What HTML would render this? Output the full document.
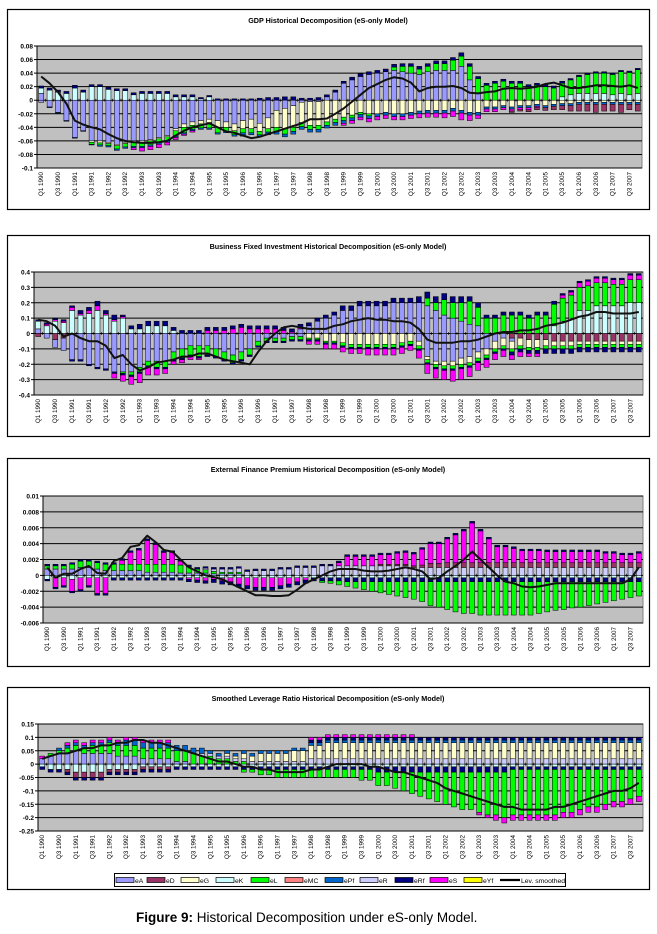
<!DOCTYPE html>
<html><head><meta charset="utf-8">
<style>
body{margin:0;background:#fff;width:657px;height:929px;overflow:hidden;font-family:"Liberation Sans",sans-serif}
svg text{font-family:"Liberation Sans",sans-serif}
</style></head>
<body>
<svg id="chart" width="657" height="929" xmlns="http://www.w3.org/2000/svg">
<rect x="0" y="0" width="657" height="929" fill="#fff"/>
</svg>
<script>
// ---------- shared ----------
const quarters = [];
for (let y = 1990; y <= 2007; y++) for (let q = 1; q <= 4; q++) quarters.push('Q' + q + ' ' + y);

// ---------- Panel 1: GDP (values x0.001) ----------
const gdpScale = 0.001;
const gdpTicks = [0.08,0.06,0.04,0.02,0,-0.02,-0.04,-0.06,-0.08,-0.1];
const gdpTickLabels = ['0.08','0.06','0.04','0.02','0','-0.02','-0.04','-0.06','-0.08','-0.1'];
const gdpLine = [35,25,12,-5,-30,-36,-40,-43,-50,-56,-60,-62,-63,-63,-62,-60,-52,-45,-40,-37,-34,-40,-46,-48,-52,-56,-54,-50,-46,-42,-38,-34,-28,-28,-27,-20,-12,-2,8,18,24,30,34,32,26,13,18,20,20,21,18,11,10,12,13,17,18,17,18,20,24,26,22,18,18,20,22,22,21,20,22,18];
const gdpPosA = [10,0,0,0,0,0,0,0,0,0,0,0,0,0,0,0,0,0,0,0,0,0,0,0,0,0,0,0,0,0,0,0,0,0,5,12,25,30,35,38,40,42,44,42,40,38,42,44,44,44,50,30,10,0,0,0,0,0,0,0,0,0,0,0,0,0,0,0,0,0,0,0];
const gdpPosK = [8,15,12,10,18,12,20,20,16,14,14,8,10,10,10,10,5,5,5,2,5,0,0,0,0,0,0,0,0,0,0,0,0,0,0,0,0,0,0,0,0,0,0,0,0,0,0,0,0,0,0,0,0,0,0,0,0,0,0,0,0,0,5,8,10,10,10,10,8,10,8,10];
const gdpPosL = [0,0,0,0,0,0,0,0,0,0,0,0,0,0,0,0,0,0,0,0,0,0,0,0,0,0,0,0,0,0,0,0,0,0,0,0,0,0,0,0,0,0,5,8,10,8,8,10,10,15,15,20,22,22,25,28,25,25,20,22,20,18,20,22,25,28,30,30,30,32,33,35];
const gdpPosRf = [3,3,3,3,4,3,3,3,3,3,3,3,3,3,3,3,3,3,3,2,2,2,2,2,2,2,3,4,4,5,5,3,3,4,3,3,3,4,4,4,4,4,4,4,4,4,4,4,4,4,5,4,3,3,3,3,3,3,3,3,3,3,3,2,2,2,2,2,2,2,2,2];
const gdpNegA = [-3,-10,-18,-30,-55,-45,-60,-60,-62,-65,-62,-60,-60,-58,-55,-52,-42,-35,-32,-30,-28,-30,-32,-35,-30,-28,-34,-26,-15,-12,-8,-3,-2,-2,0,0,0,0,0,0,0,0,0,0,0,0,0,0,0,0,0,0,0,0,0,0,0,0,0,0,0,0,0,0,0,0,0,0,0,0,0,0];
const gdpNegG = [0,0,0,0,0,0,-2,-3,-2,-2,-2,-2,-2,-2,-2,-2,-3,-5,-5,-5,-5,-10,-8,-10,-12,-14,-12,-16,-25,-30,-32,-30,-35,-35,-32,-28,-25,-22,-18,-20,-20,-18,-20,-20,-18,-16,-15,-15,-15,-12,-15,-18,-18,-10,-10,-8,-10,-8,-8,-6,-8,-6,-5,-5,-3,-3,-3,-3,-3,-3,-3,-3];
const gdpNegL = [0,0,0,0,0,0,-3,-3,-3,-5,-5,-6,-6,-6,-6,-6,-8,-8,-6,-6,-8,-8,-6,-6,-6,-6,-5,-5,-6,-8,-6,-6,-6,-6,-5,-5,-5,-4,-3,-3,0,0,0,0,0,0,0,0,0,0,0,0,0,0,0,0,0,0,0,0,0,0,0,0,0,0,0,0,0,0,0,0];
const gdpNegPf = [0,-1,-1,-1,-1,-1,-1,-2,-2,-2,-2,-2,-2,-2,-2,-2,-2,-2,-2,-2,-2,-2,-2,-2,-3,-3,-3,-4,-4,-4,-4,-4,-4,-4,-4,-4,-4,-4,-4,-4,-4,-4,-4,-4,-4,-4,-4,-4,-4,-4,-4,-4,-4,-3,-3,-3,-3,-3,-3,-3,-3,-3,-3,-3,-3,-3,-3,-3,-3,-3,-3,-3];
const gdpNegS = [0,0,0,0,0,0,0,0,0,0,0,-3,-5,-5,-5,-4,-3,-2,-2,0,0,0,0,0,-2,0,0,0,0,0,0,0,0,0,0,0,-3,-4,-4,-5,-5,-5,-5,-5,-5,-6,-6,-6,-7,-8,-10,-8,-5,-4,-4,-3,-3,-3,-3,-2,0,0,0,0,0,0,0,0,0,0,0,0];
const gdpNegD = [0,0,0,0,0,0,0,0,0,0,0,0,0,0,0,0,0,0,0,0,0,0,0,0,0,0,0,0,0,0,0,0,0,0,0,0,0,0,0,0,0,0,0,0,0,0,0,0,0,0,0,0,0,0,0,0,-2,-2,-3,-3,-4,-5,-6,-8,-10,-10,-12,-10,-10,-12,-8,-10];

// ---------- Panel 2: Business fixed investment (values x0.01) ----------
const bfiScale = 0.01;
const bfiTicks = [0.4,0.3,0.2,0.1,0,-0.1,-0.2,-0.3,-0.4];
const bfiTickLabels = ['0.4','0.3','0.2','0.1','0','-0.1','-0.2','-0.3','-0.4'];
const bfiLine = [9,8,5,-2,0,-3,-5,-5,-8,-16,-14,-20,-24,-22,-19,-18,-17,-15,-15,-13,-13,-15,-17,-18,-19,-20,-12,-5,0,4,5,4,3,3,3,5,6,8,9,10,9,9,8,8,7,3,-4,-6,-6,-6,-5,-5,-4,-2,0,1,1,2,2,3,5,6,7,9,11,12,14,14,13,13,13,14];
const bfiPosA = [3,0,0,0,0,0,0,0,0,0,0,0,0,0,0,0,0,0,0,0,0,0,0,0,0,0,0,0,0,0,0,3,5,8,10,12,15,15,18,18,18,18,20,20,20,20,18,15,12,10,8,6,5,0,0,0,0,0,0,0,0,0,0,0,0,0,0,0,0,0,0,0];
const bfiPosK = [5,5,8,7,15,12,13,15,12,8,10,3,3,5,5,5,2,0,0,0,0,0,0,0,0,0,0,0,0,0,0,0,0,0,0,0,0,0,0,0,0,0,0,0,0,0,0,0,0,0,0,0,0,0,0,0,0,0,0,0,0,5,8,10,15,15,18,18,18,18,20,20];
const bfiPosL = [0,0,0,0,0,0,0,0,0,0,0,0,0,0,0,0,0,0,0,0,0,0,0,0,0,0,0,0,0,0,0,0,0,0,0,0,0,0,0,0,0,0,0,0,0,0,5,5,10,10,12,15,12,10,10,12,12,12,10,12,12,14,15,15,15,16,15,15,14,14,15,15];
const bfiPosS = [0,1,1,1,2,1,2,3,1,1,1,0,0,0,0,0,0,0,0,0,2,2,2,3,4,3,3,3,3,2,1,1,0,0,0,0,0,0,0,0,0,0,0,0,0,0,0,0,0,0,0,0,0,0,0,0,0,0,0,0,0,0,2,2,3,3,3,3,3,3,3,3];
const bfiPosRf = [1,1,1,1,1,2,2,3,2,3,1,2,3,3,3,3,2,2,2,2,2,2,2,2,2,2,2,2,2,2,2,2,2,2,2,2,3,3,3,3,3,3,3,3,3,4,4,4,4,4,4,3,3,2,2,2,2,2,2,2,2,2,1,1,1,1,1,1,1,1,1,1];
const bfiNegA = [0,-3,-5,-8,-17,-17,-20,-22,-23,-25,-25,-25,-22,-18,-18,-18,-12,-10,-8,-8,-8,-10,-12,-14,-12,-10,-5,-3,-3,-3,-2,-2,0,0,0,0,0,0,0,0,0,0,0,0,0,-5,-15,-18,-18,-18,-16,-15,-12,-10,-5,-3,-2,0,0,0,0,0,0,0,0,0,0,0,0,0,0,0];
const bfiNegD = [-2,0,-4,-3,0,0,0,0,0,0,0,0,0,0,0,0,0,0,0,0,0,0,0,0,0,0,0,0,0,0,0,0,0,0,0,0,0,0,0,0,0,0,0,0,0,0,0,0,0,0,0,0,0,0,0,0,-3,-3,-4,-4,-4,-5,-5,-5,-5,-5,-5,-5,-5,-5,-5,-5];
const bfiNegG = [0,0,0,0,0,0,0,0,0,0,0,0,0,0,0,0,0,0,0,0,0,0,0,0,0,0,0,0,0,0,0,0,-3,-3,-5,-5,-6,-7,-7,-7,-7,-7,-7,-6,-5,-3,-2,-2,-3,-3,-4,-4,-4,-4,-5,-5,-5,-5,-5,-5,-4,-3,-3,-3,-2,-2,-2,-2,-2,-2,-2,-2];
const bfiNegL = [0,0,0,0,0,0,0,0,0,0,-1,-2,-3,-3,-4,-4,-5,-6,-6,-7,-6,-5,-5,-5,-5,-4,-3,-2,-2,-2,-2,-2,-1,-1,-1,-1,-2,-2,-2,-2,-2,-2,-2,-2,-2,-2,-2,-2,-2,-2,-2,-2,-2,-2,-2,-2,-2,-2,-2,-2,-2,-2,-2,-2,-2,-2,-2,-2,-2,-2,-2,-2];
const bfiNegS = [0,0,0,0,0,0,0,0,0,-3,-4,-5,-6,-5,-4,-3,-2,-2,-2,-1,0,0,0,0,0,0,0,0,0,0,0,0,-2,-2,-3,-3,-3,-3,-3,-4,-4,-4,-4,-4,-3,-5,-6,-6,-6,-7,-7,-6,-5,-5,-4,-4,-3,-3,-2,-2,0,0,0,0,0,0,0,0,0,0,0,0];
const bfiNegRf = [0,0,0,0,-1,-1,-1,-1,-1,-1,-1,-1,-1,-1,-1,-1,-1,-1,-1,-1,-1,-1,-1,-1,-1,-1,-1,-1,-1,-1,-1,-1,-1,-1,-1,-1,-1,-1,-1,-1,-1,-1,-1,-1,-1,-1,-1,-1,-1,-1,-1,-1,-1,-1,-1,-1,-2,-2,-2,-2,-3,-3,-3,-3,-3,-3,-3,-3,-3,-3,-3,-3];

// ---------- Panel 3: External finance premium (values x0.0001) ----------
const efpScale = 0.0001;
const efpTicks = [0.01,0.008,0.006,0.004,0.002,0,-0.002,-0.004,-0.006];
const efpTickLabels = ['0.01','0.008','0.006','0.004','0.002','0','-0.002','-0.004','-0.006'];
const efpLine = [10,-3,2,2,8,12,3,2,18,22,36,38,50,42,32,30,20,10,5,0,-2,-5,-10,-15,-20,-25,-25,-26,-26,-25,-18,-10,-5,0,5,8,8,8,6,5,5,6,8,10,8,5,-5,-3,5,12,20,30,20,10,0,-8,-10,-14,-15,-14,-12,-10,-10,-10,-10,-10,-10,-10,-10,-10,-5,10];
const efpPosA = [8,8,8,8,10,10,8,6,6,6,6,6,4,4,4,4,3,3,3,3,2,2,2,2,0,0,0,0,0,0,0,0,0,0,0,0,0,0,0,0,0,0,0,0,0,0,0,0,0,0,0,0,0,0,0,0,0,0,0,0,0,0,0,0,0,0,0,0,0,0,0,0];
const efpPosL = [4,4,4,6,8,8,8,8,8,8,8,8,10,10,10,10,10,8,5,4,3,2,2,2,0,0,0,0,0,0,0,0,0,0,0,0,0,0,0,0,0,0,0,0,0,0,0,0,0,0,0,0,0,0,0,0,0,0,0,0,0,0,0,0,0,0,0,0,0,0,0,0];
const efpPosR = [0,0,0,0,0,0,0,0,0,0,0,0,0,0,0,0,0,0,0,2,3,4,4,5,5,6,6,6,8,8,10,10,10,12,12,12,12,12,12,12,12,12,12,12,10,10,10,10,10,10,10,10,10,10,10,10,10,10,10,10,10,10,10,10,10,10,10,10,10,10,10,10];
const efpPosD = [0,0,0,0,0,0,0,0,0,0,0,0,0,0,0,0,0,0,0,0,0,0,0,0,0,0,0,0,0,0,0,0,0,0,0,0,0,0,0,0,2,2,2,2,2,3,5,5,6,6,6,6,6,6,6,6,6,6,6,6,6,6,6,6,6,6,6,6,6,6,6,6];
const efpPosS = [0,0,0,0,0,0,0,0,0,5,15,18,30,25,15,15,5,0,0,0,0,0,0,0,0,0,0,0,0,0,0,0,0,0,0,4,12,12,12,12,12,12,14,15,15,20,25,25,30,35,40,50,40,30,20,20,18,15,15,15,14,14,14,14,14,14,14,12,12,10,10,12];
const efpPosRf = [2,2,2,2,2,2,2,2,2,2,2,2,2,2,2,2,2,2,2,2,2,2,2,2,2,2,2,2,2,2,2,2,2,2,2,2,2,2,2,2,2,2,2,2,2,2,2,2,2,2,2,2,2,2,2,2,2,2,2,2,2,2,2,2,2,2,2,2,2,2,2,2];
const efpNegK = [-5,-3,-3,-5,-3,-3,-3,-3,-3,-3,-3,-3,-3,-3,-3,-3,-3,-3,-3,-3,-3,-3,-3,-3,-3,-3,-3,-3,-3,-3,-3,-3,-3,-3,-3,-3,-3,-3,-3,-3,-3,-3,-3,-3,-3,-3,-3,-3,-3,-3,-3,-3,-3,-3,-3,-3,-3,-3,-3,-3,-3,-3,-3,-3,-3,-3,-3,-3,-3,-3,-3,-3];
const efpNegS = [0,-12,-10,-15,-15,-10,-20,-20,0,0,0,0,0,0,0,0,0,-2,-3,-4,-2,-4,-5,-8,-10,-12,-12,-12,-10,-8,-5,-3,0,0,0,0,0,0,0,0,0,0,0,0,0,0,0,0,0,0,0,0,0,0,0,0,0,0,0,0,0,0,0,0,0,0,0,0,0,0,0,0];
const efpNegL = [0,0,0,0,0,0,0,0,0,0,0,0,0,0,0,0,0,0,0,0,0,0,0,0,0,0,0,0,0,0,0,0,0,-2,-3,-5,-6,-8,-10,-12,-14,-16,-18,-20,-22,-25,-30,-32,-35,-38,-40,-40,-42,-42,-42,-42,-42,-42,-42,-40,-38,-36,-35,-33,-32,-30,-28,-26,-24,-22,-20,-18];
const efpNegRf = [-2,-2,-2,-2,-2,-2,-2,-2,-3,-3,-3,-3,-3,-3,-3,-3,-3,-3,-3,-3,-4,-4,-4,-4,-4,-4,-4,-4,-4,-4,-4,-4,-4,-4,-4,-4,-5,-5,-5,-5,-5,-5,-5,-5,-5,-5,-5,-5,-5,-5,-5,-5,-5,-5,-5,-5,-5,-5,-5,-5,-5,-5,-5,-5,-5,-5,-5,-5,-5,-5,-5,-5];

// ---------- Panel 4: Smoothed leverage ratio (values x0.01) ----------
const levScale = 0.01;
const levTicks = [0.15,0.1,0.05,0,-0.05,-0.1,-0.15,-0.2,-0.25];
const levTickLabels = ['0.15','0.1','0.05','0','-0.05','-0.1','-0.15','-0.2','-0.25'];
const levLine = [2,3,4,4,5,6,6,7,7,8,8,9,9,8,8,7,6,5,4,3,2,1,1,0,-1,-1,-2,-2,-3,-3,-3,-3,-2,-2,-1,0,0,0,0,-1,-1,-2,-3,-3,-4,-5,-6,-7,-9,-10,-11,-12,-13,-14,-15,-16,-16,-17,-17,-17,-17,-16,-16,-15,-14,-13,-12,-11,-10,-10,-9,-7];
const levPosA = [2,3,4,4,5,4,4,4,4,3,3,3,2,2,2,2,1,1,0,0,0,0,0,0,0,0,0,0,0,0,0,0,0,0,0,0,0,0,0,0,0,0,0,0,0,0,0,0,0,0,0,0,0,0,0,0,0,0,0,0,0,0,0,0,0,0,0,0,0,0,0,0];
const levPosL = [0,1,1,2,2,2,3,3,4,4,4,4,4,4,4,4,4,4,4,3,3,2,2,1,1,0,0,0,0,0,0,0,0,0,0,0,0,0,0,0,0,0,0,0,0,0,0,0,0,0,0,0,0,0,0,0,0,0,0,0,0,0,0,0,0,0,0,0,0,0,0,0];
const levPosG = [0,0,0,0,0,0,0,0,0,0,0,0,0,0,0,0,0,0,0,0,0,0,1,1,2,2,3,3,3,3,4,4,5,5,6,6,6,6,6,6,6,6,6,6,6,6,6,6,6,6,6,6,6,6,6,6,6,6,6,6,6,6,6,6,6,6,6,6,6,6,6,6];
const levPosR = [0,0,0,0,0,0,0,0,0,0,0,0,0,0,0,0,0,0,0,1,1,1,1,1,1,1,1,1,1,1,1,1,2,2,2,2,2,2,2,2,2,2,2,2,2,2,2,2,2,2,2,2,2,2,2,2,2,2,2,2,2,2,2,2,2,2,2,2,2,2,2,2];
const levPosPf = [0,0,1,1,1,1,1,1,1,1,2,2,2,2,2,2,2,2,2,2,1,1,1,1,1,1,1,1,1,1,1,1,1,1,1,1,1,1,1,1,1,1,1,1,1,1,1,1,1,1,1,1,1,1,1,1,1,1,1,1,1,1,1,1,1,1,1,1,1,1,1,1];
const levPosS = [1,0,0,1,1,1,1,1,1,1,1,1,1,1,1,1,0,0,0,0,0,0,0,0,0,0,0,0,0,0,0,0,1,1,1,1,1,1,1,1,1,1,1,1,1,0,0,0,0,0,0,0,0,0,0,0,0,0,0,0,0,0,0,0,0,0,0,0,0,0,0,0];
const levPosRf = [0,0,0,0,0,0,0,0,0,0,0,0,0,0,0,0,0,0,0,0,0,0,0,0,0,0,0,0,0,0,0,0,1,1,1,1,1,1,1,1,1,1,1,1,1,1,1,1,1,1,1,1,1,1,1,1,1,1,1,1,1,1,1,1,1,1,1,1,1,1,1,1];
const levNegK = [-1,-2,-2,-2,-3,-3,-3,-3,-2,-2,-2,-2,-1,-1,-1,-1,-1,-1,-1,-1,-1,-1,-1,-1,-1,-1,-1,-1,-1,-1,-1,-1,-1,-1,-1,-1,-1,-1,-1,-1,-1,-1,-1,-1,-1,-1,-1,-1,-1,-1,-1,-1,-1,-1,-1,-1,-1,-1,-1,-1,-1,-1,-1,-1,-1,-1,-1,-1,-1,-1,-1,-1];
const levNegD = [0,0,0,-1,-2,-2,-2,-2,-1,-1,-1,-1,-1,-1,-1,-1,0,0,0,0,0,0,0,0,0,0,0,0,0,0,0,0,0,0,0,0,0,0,0,0,0,0,0,0,0,0,0,0,0,0,0,0,0,0,0,0,0,0,0,0,0,0,0,0,0,0,0,0,0,0,0,0];
const levNegL = [0,0,0,0,0,0,0,0,0,0,0,0,0,0,0,0,0,0,0,0,0,0,0,0,-1,-1,-2,-2,-3,-3,-3,-3,-3,-3,-3,-3,-3,-3,-4,-4,-5,-5,-6,-7,-8,-9,-10,-11,-12,-13,-14,-14,-15,-16,-16,-17,-17,-17,-17,-17,-17,-17,-16,-16,-15,-14,-14,-13,-12,-12,-11,-10];
const levNegRf = [-1,-1,-1,-1,-1,-1,-1,-1,-1,-1,-1,-1,-1,-1,-1,-1,-1,-1,-1,-1,-1,-1,-1,-1,-1,-1,-1,-1,-1,-1,-1,-1,-1,-1,-1,-1,-1,-1,-1,-1,-2,-2,-2,-2,-2,-2,-2,-2,-2,-2,-2,-2,-2,-2,-2,-2,-1,-1,-1,-1,-1,-1,-1,-1,-1,-1,-1,-1,-1,-1,-1,-1];
const levNegS = [0,0,0,0,0,0,0,0,0,0,0,0,0,0,0,0,0,0,0,0,0,0,0,0,0,0,0,0,0,0,0,0,0,0,0,0,0,0,0,0,0,0,0,0,0,0,0,0,0,0,0,0,-1,-1,-2,-2,-2,-2,-2,-2,-2,-2,-2,-2,-2,-2,-2,-2,-2,-2,-2,-2];

// legend
const legendNames = ['eA','eD','eG','eK','eL','eMC','ePf','eR','eRf','eS','eYf'];
const legendColors = ['#9999ff','#993366','#ffffcc','#ccffff','#00ff00','#ff8080','#0066cc','#ccccff','#000080','#ff00ff','#ffff00'];
const C = {eA:'#9999ff',eD:'#993366',eG:'#ffffcc',eK:'#ccffff',eL:'#00ff00',eMC:'#ff8080',ePf:'#0066cc',eR:'#ccccff',eRf:'#000080',eS:'#ff00ff',eYf:'#ffff00'};

const panels = [
 {id:'gdp',title:'GDP Historical Decomposition (eS-only Model)',box:[7,9,642,200],plot:[37,46,642,168],min:-0.1,max:0.08,scale:gdpScale,ticks:gdpTicks,tickLabels:gdpTickLabels,line:gdpLine,
  pos:[['eA',gdpPosA],['eK',gdpPosK],['eL',gdpPosL],['eRf',gdpPosRf]],
  neg:[['eA',gdpNegA],['eG',gdpNegG],['eL',gdpNegL],['ePf',gdpNegPf],['eS',gdpNegS],['eD',gdpNegD]]},
 {id:'bfi',title:'Business Fixed Investment Historical Decomposition (eS-only Model)',box:[7,235,642,201],plot:[34,272,643,395],min:-0.4,max:0.4,scale:bfiScale,ticks:bfiTicks,tickLabels:bfiTickLabels,line:bfiLine,
  pos:[['eA',bfiPosA],['eK',bfiPosK],['eL',bfiPosL],['eS',bfiPosS],['eRf',bfiPosRf]],
  neg:[['eD',bfiNegD],['eA',bfiNegA],['eG',bfiNegG],['eL',bfiNegL],['eRf',bfiNegRf],['eS',bfiNegS]]},
 {id:'efp',title:'External Finance Premium Historical Decomposition (eS-only Model)',box:[7,458,642,208],plot:[43,496,643,623],min:-0.006,max:0.01,scale:efpScale,ticks:efpTicks,tickLabels:efpTickLabels,line:efpLine,
  pos:[['eA',efpPosA],['eL',efpPosL],['eR',efpPosR],['eD',efpPosD],['eS',efpPosS],['eRf',efpPosRf]],
  neg:[['eK',efpNegK],['eS',efpNegS],['eRf',efpNegRf],['eL',efpNegL]]},
 {id:'lev',title:'Smoothed Leverage Ratio Historical Decomposition (eS-only Model)',box:[7,687,642,202],plot:[38,724,643,831],min:-0.25,max:0.15,scale:levScale,ticks:levTicks,tickLabels:levTickLabels,line:levLine,
  pos:[['eA',levPosA],['eL',levPosL],['eR',levPosR],['eG',levPosG],['ePf',levPosPf],['eRf',levPosRf],['eS',levPosS]],
  neg:[['eK',levNegK],['eD',levNegD],['eRf',levNegRf],['eL',levNegL],['eS',levNegS]]}
];

const NS = 'http://www.w3.org/2000/svg';
const svg = document.getElementById('chart');
function mk(tag, attrs, parent){ const e=document.createElementNS(NS,tag); for(const k in attrs) e.setAttribute(k,attrs[k]); (parent||svg).appendChild(e); return e; }

panels.forEach(p => {
  const g = mk('g',{});
  
  
  const [bx,by,bw,bh] = p.box;
  const border = mk('rect',{x:bx+0.5,y:by+0.5,width:bw,height:bh,fill:'#fff',stroke:'#000','stroke-width':1.2},g);
  
  
  const [L,T,R,B] = p.plot;
  const yS = v => T + (p.max - v) / (p.max - p.min) * (B - T);
  const slot = (R - L) / quarters.length;
  const xS = i => L + (i + 0.5) * slot;
  const title = mk('text',{x:(bx+bx+bw)/2,y:by+14,'text-anchor':'middle','font-size':'7.2','font-weight':'bold',fill:'#000'},g);
  title.textContent = p.title;
  
  
  const bg = mk('rect',{x:L,y:T,width:R-L,height:B-T,fill:'#c0c0c0',stroke:'#808080','stroke-width':1},g);
  
  
  p.ticks.forEach((t,k) => {
    const y = yS(t);
    const gl = mk('line',{x1:L,x2:R,y1:y,y2:y,stroke:'#000','stroke-width':1},g);
    
    
    mk('line',{x1:L-3,x2:L,y1:y,y2:y,stroke:'#000','stroke-width':1},g);
    const tl = mk('text',{x:L-4,y:y+2.5,'text-anchor':'end','font-size':'6.5','font-weight':'bold',fill:'#000'},g);
    tl.textContent = p.tickLabels[k];
    
    
  });
  mk('line',{x1:L,x2:L,y1:T,y2:B,stroke:'#000','stroke-width':1},g);
  const bw2 = slot * 0.6;
  quarters.forEach((q,i) => {
    const cx = xS(i);
    let acc = 0;
    p.pos.forEach(([nm,arr]) => {
      const v = arr[i]; if (!v) return;
      const y0 = yS(acc*p.scale), y1 = yS((acc+v)*p.scale); acc += v;
      const r = mk('rect',{x:cx-bw2/2,y:Math.min(y0,y1),width:bw2,height:Math.abs(y1-y0),fill:C[nm],stroke:'#000','stroke-width':0.5},g);
      
      
    });
    acc = 0;
    p.neg.forEach(([nm,arr]) => {
      const v = arr[i]; if (!v) return;
      const y0 = yS(acc*p.scale), y1 = yS((acc+v)*p.scale); acc += v;
      const r = mk('rect',{x:cx-bw2/2,y:Math.min(y0,y1),width:bw2,height:Math.abs(y1-y0),fill:C[nm],stroke:'#000','stroke-width':0.5},g);
      
      
    });
    mk('line',{x1:L+i*slot,x2:L+i*slot,y1:yS(0)-1.5,y2:yS(0)+1.5,stroke:'#000','stroke-width':0.6},g);
    if (i % 2 === 0) {
      const lx = cx + 2, ly = B + 4;
      const xl = mk('text',{x:lx,y:ly,'text-anchor':'end','font-size':'6.3',fill:'#000',transform:'rotate(-90 '+lx+' '+ly+')'},g);
      xl.textContent = q;
      
      
    }
  });
  const pts = p.line.map((v,i) => xS(i).toFixed(1) + ',' + yS(v*p.scale).toFixed(1)).join(' ');
  const pl = mk('polyline',{points:pts,fill:'none',stroke:'#111','stroke-width':2,'stroke-linejoin':'round'},g);
  
  
});

// legend
const lg = mk('g',{});


mk('rect',{x:114.5,y:873.5,width:451,height:13,fill:'#fff',stroke:'#000','stroke-width':1},lg);
const legendWidths = [31,34,35,35,34,40,35,35,35,34,36];
let lx = 116;
legendNames.forEach((n,k) => {
  const sw = mk('rect',{x:lx,y:877.5,width:18,height:5,fill:legendColors[k],stroke:'#000','stroke-width':0.7},lg);
  
  
  const t = mk('text',{x:lx+19,y:883,'font-size':'6.8',fill:'#000'},lg);
  t.textContent = n;
  
  
  lx += legendWidths[k];
});
mk('line',{x1:lx,x2:lx+20,y1:880,y2:880,stroke:'#000','stroke-width':2.2},lg);
const lt = mk('text',{x:lx+21,y:883,'font-size':'6.8',fill:'#000'},lg);
lt.textContent = 'Lev. smoothed';



// caption
const cap = mk('text',{x:136,y:922,'font-size':'13.5',fill:'#000'});


const b = mk('tspan',{'font-weight':'bold'},cap); b.textContent = 'Figure 9:';
const r = mk('tspan',{},cap); r.textContent = ' Historical Decomposition under eS-only Model.';
</script>
</body></html>
